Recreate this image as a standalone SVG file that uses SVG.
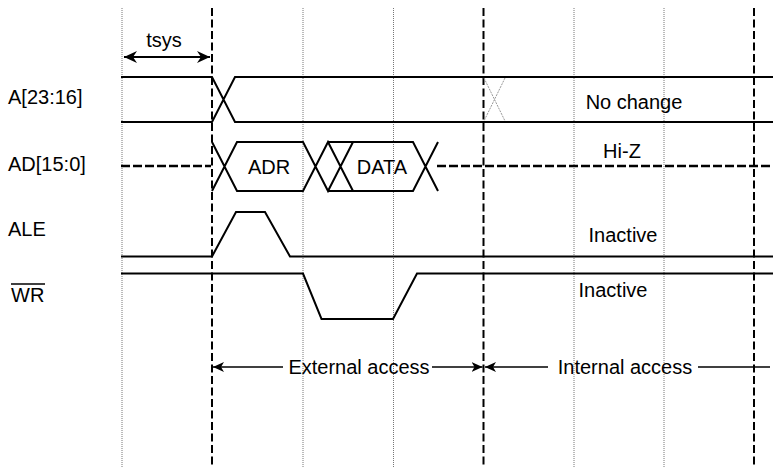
<svg xmlns="http://www.w3.org/2000/svg" width="773" height="467" viewBox="0 0 773 467">
<style>
text{font-family:"Liberation Sans",Arial,sans-serif;font-size:20px;fill:#000}
.sig{fill:none;stroke:#000;stroke-width:2}
.dash{fill:none;stroke:#000;stroke-width:2;stroke-dasharray:8,3.5}
.dot{fill:none;stroke:#777;stroke-width:1;stroke-dasharray:1,1}
.hiz{fill:none;stroke:#000;stroke-width:2.5;stroke-dasharray:9,3}
.dim{fill:none;stroke:#000;stroke-width:1.5}
.mid{text-anchor:middle}
</style>
<defs>
<marker id="ah" markerUnits="userSpaceOnUse" markerWidth="14" markerHeight="12" refX="13" refY="6" orient="auto-start-reverse">
<path d="M0,0 L13,6 L0,12 L4,6 Z" fill="#000"/>
</marker>
<marker id="ahs" markerUnits="userSpaceOnUse" markerWidth="12" markerHeight="10" refX="11" refY="5" orient="auto-start-reverse">
<path d="M0,0 L11,5 L0,10 L3,5 Z" fill="#000"/>
</marker>
</defs>
<g id="grid">
<line class="dot" x1="122" y1="8" x2="122" y2="467"/>
<line class="dot" x1="303" y1="8" x2="303" y2="467"/>
<line class="dot" x1="393.5" y1="8" x2="393.5" y2="467"/>
<line class="dot" x1="574" y1="8" x2="574" y2="467"/>
<line class="dot" x1="664" y1="8" x2="664" y2="467"/>
<line class="dash" x1="212" y1="8" x2="212" y2="467"/>
<line class="dash" x1="483.5" y1="8" x2="483.5" y2="467"/>
<line class="dash" x1="754" y1="8" x2="754" y2="467"/>
</g>
<g id="labels">
<text x="8" y="104">A[23:16]</text>
<text x="8" y="171">AD[15:0]</text>
<text x="8" y="236">ALE</text>
<text x="11" y="302">WR</text>
<line x1="11" y1="284" x2="45" y2="284" stroke="#000" stroke-width="1.5"/>
</g>
<g id="tsys">
<line class="sig" x1="124" y1="57" x2="210" y2="57" marker-start="url(#ah)" marker-end="url(#ah)"/>
<text class="mid" x="164" y="47">tsys</text>
</g>
<g id="sig-a">
<path class="sig" d="M121,77 H212 L235,122 H773 M121,122 H212 L235,77 H773"/>
<path d="M484,78 L505,121 M505,78 L484,121" fill="none" stroke="#999" stroke-width="1" stroke-dasharray="2,1"/>
<text class="mid" x="634" y="109">No change</text>
</g>
<g id="sig-ad">
<line class="hiz" x1="121" y1="166" x2="211" y2="166"/>
<path class="sig" d="M212,142 L237,191 H303 L328,142 L353,191 M212,191 L237,142 H303 L328,191 L353,142 M328,142 H413 L438,191 M328,191 H413 L438,142"/>
<line class="hiz" x1="437" y1="166" x2="773" y2="166"/>
<text class="mid" x="269" y="174">ADR</text>
<text class="mid" x="382" y="174">DATA</text>
<text class="mid" x="622" y="158">Hi-Z</text>
</g>
<g id="sig-ale">
<path class="sig" d="M121,256.5 H212 L236,212 H265 L290,256.5 H773"/>
<text class="mid" x="623" y="242">Inactive</text>
</g>
<g id="sig-wr">
<path class="sig" d="M121,273.5 H303 L321.5,319 H393 L417,273.5 H773"/>
<text class="mid" x="613" y="297">Inactive</text>
</g>
<g id="connectors">
<line class="dim" x1="283" y1="367" x2="213" y2="367" marker-end="url(#ahs)"/>
<line class="dim" x1="432" y1="367" x2="482.5" y2="367" marker-end="url(#ahs)"/>
<line class="dim" x1="548" y1="367" x2="485" y2="367" marker-end="url(#ahs)"/>
<line class="dim" x1="698" y1="367" x2="770" y2="367"/>
<text class="mid" x="359" y="374">External access</text>
<text class="mid" x="625" y="374">Internal access</text>
</g>
</svg>
